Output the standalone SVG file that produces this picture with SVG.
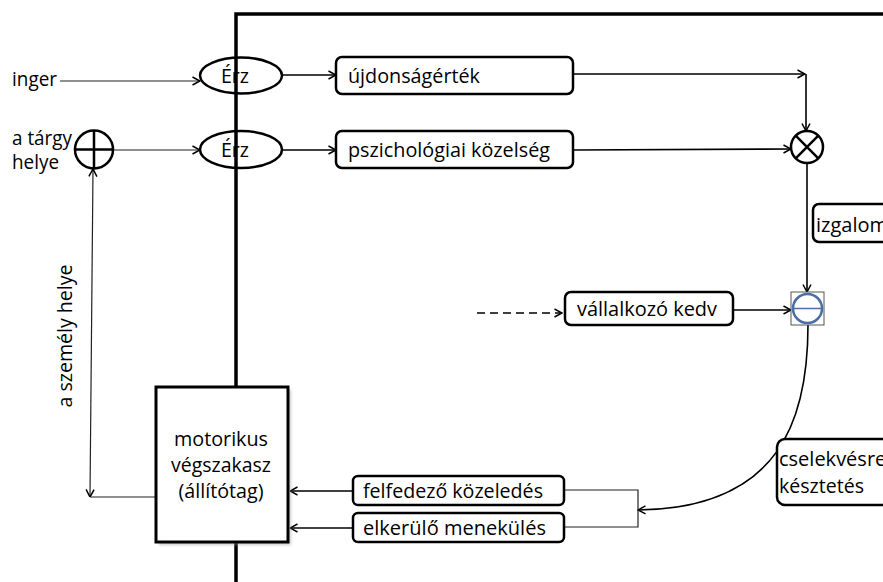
<svg xmlns="http://www.w3.org/2000/svg" width="883" height="582" viewBox="0 0 883 582">
  <style>
    text { font-family: "Open Sans", "Liberation Sans", sans-serif; font-size: 20px; fill: #000; }
    .box { fill: #fff; stroke: #000; stroke-width: 2.5; }
    .wire { fill: none; stroke: #000; stroke-width: 1.6; }
    .thin { fill: none; stroke: #222; stroke-width: 1.2; }
    .mid { text-anchor: middle; }
  </style>
  <defs>
    <marker id="arr" viewBox="0 0 10 10" refX="9.5" refY="5" markerWidth="10" markerHeight="10" markerUnits="userSpaceOnUse" orient="auto-start-reverse">
      <path d="M2,1 L9.5,5 L2,9" fill="none" stroke="#000" stroke-width="1.5"/>
    </marker>
    <filter id="soft" x="-10%" y="-10%" width="130%" height="130%">
      <feGaussianBlur stdDeviation="1.5"/>
    </filter>
  </defs>

  <!-- system boundary -->
  <path id="frame" d="M236,582 V14 H883" fill="none" stroke="#000" stroke-width="3.5"/>

  <!-- connectors -->
  <g id="connectors">
    <path class="thin" d="M60,81 H200" marker-end="url(#arr)"/>
    <path class="thin" d="M113,150 H200" marker-end="url(#arr)"/>
    <path class="wire" d="M282,75 H336" stroke-width="2" marker-end="url(#arr)"/>
    <path class="wire" d="M282,150 H336" stroke-width="2" marker-end="url(#arr)"/>
    <path class="wire" d="M573,74 H805" marker-end="url(#arr)"/>
    <path class="wire" d="M806,74 V131" marker-end="url(#arr)"/>
    <path class="wire" d="M573,150 L791,149" marker-end="url(#arr)"/>
    <path class="wire" d="M807,163 V292" marker-end="url(#arr)"/>
    <path class="wire" d="M733,310 H791" marker-end="url(#arr)"/>
    <path class="wire" d="M477,313 H562" stroke-dasharray="8,5" marker-end="url(#arr)"/>
    <path class="wire" d="M808,325 C808,420 780,508 638,510" marker-end="url(#arr)"/>
    <path class="thin" d="M564,490 H638 V527 H564"/>
    <path class="wire" d="M353,491 H290" marker-end="url(#arr)"/>
    <path class="wire" d="M353,528 H290" marker-end="url(#arr)"/>
    <path class="thin" d="M156,497 H90"/>
    <path class="thin" d="M90,497 L93,169" marker-start="url(#arr)" marker-end="url(#arr)"/>
  </g>

  <!-- inputs -->
  <g id="input-inger">
    <text x="12" y="86" textLength="45" lengthAdjust="spacingAndGlyphs">inger</text>
  </g>
  <g id="input-targy">
    <text x="12" y="145" textLength="60" lengthAdjust="spacingAndGlyphs">a tárgy</text>
    <text x="12" y="169" textLength="47" lengthAdjust="spacingAndGlyphs">helye</text>
  </g>
  <g id="sum-point">
    <circle cx="94" cy="149.5" r="19" fill="none" stroke="#000" stroke-width="2.5"/>
    <path d="M75,149.5 H113 M94,130.5 V168.5" stroke="#000" stroke-width="2.5"/>
  </g>
  <g id="label-szemely">
    <text class="mid" transform="translate(72,336) rotate(-90)" textLength="143" lengthAdjust="spacingAndGlyphs">a személy helye</text>
  </g>

  <!-- receptors -->
  <g id="erz-1">
    <ellipse cx="241" cy="75.5" rx="41" ry="18" fill="none" stroke="#000" stroke-width="2.5"/>
    <text class="mid" x="235" y="83" textLength="28" lengthAdjust="spacingAndGlyphs">Érz</text>
  </g>
  <g id="erz-2">
    <ellipse cx="241" cy="149.5" rx="41" ry="18.5" fill="none" stroke="#000" stroke-width="2.5"/>
    <text class="mid" x="235" y="157" textLength="28" lengthAdjust="spacingAndGlyphs">Érz</text>
  </g>

  <g id="ujdonsag">
    <rect class="box" x="336" y="57" width="237" height="37" rx="6"/>
    <text x="348" y="83" textLength="132" lengthAdjust="spacingAndGlyphs">újdonságérték</text>
  </g>
  <g id="kozelseg">
    <rect class="box" x="336" y="131" width="237" height="37" rx="6"/>
    <text x="348" y="157" textLength="202" lengthAdjust="spacingAndGlyphs">pszichológiai közelség</text>
  </g>

  <!-- multiplier -->
  <g id="multiplier">
    <circle cx="807" cy="147" r="16" fill="#fff" stroke="#000" stroke-width="2.5"/>
    <path d="M795.7,135.7 L818.3,158.3 M818.3,135.7 L795.7,158.3" stroke="#000" stroke-width="2.5"/>
  </g>

  <g id="izgalom">
    <rect class="box" x="813" y="204" width="100" height="38" rx="6"/>
    <text x="816" y="232">izgalom</text>
  </g>

  <g id="vallalkozo">
    <rect class="box" x="565" y="292" width="168" height="33" rx="6"/>
    <text x="577" y="316" textLength="140" lengthAdjust="spacingAndGlyphs">vállalkozó kedv</text>
  </g>

  <!-- comparator -->
  <g id="comparator">
    <rect x="791" y="292" width="33" height="33" fill="#fff" stroke="#555" stroke-width="1"/>
    <circle cx="807.5" cy="308.5" r="14.5" fill="none" stroke="#4a6fa5" stroke-width="2.5"/>
    <path d="M793,308.5 H822" stroke="#4a6fa5" stroke-width="1.5"/>
  </g>

  <g id="cselekves">
    <rect class="box" x="777" y="439" width="150" height="66" rx="8"/>
    <text x="779" y="466">cselekvésre</text>
    <text x="779" y="493" textLength="85" lengthAdjust="spacingAndGlyphs">késztetés</text>
  </g>

  <g id="felfedezo">
    <rect class="box" x="353" y="476" width="211" height="29" rx="5"/>
    <text x="363" y="498" textLength="180" lengthAdjust="spacingAndGlyphs">felfedező közeledés</text>
  </g>
  <g id="elkerulo">
    <rect class="box" x="353" y="513" width="211" height="29" rx="5"/>
    <text x="363" y="535" textLength="183" lengthAdjust="spacingAndGlyphs">elkerülő menekülés</text>
  </g>

  <!-- actuator -->
  <g id="motorikus">
    <rect x="159" y="390" width="132" height="155" fill="#999" opacity="0.5" filter="url(#soft)"/>
    <rect x="156" y="387" width="132" height="155" fill="#fff" stroke="#000" stroke-width="3"/>
    <text class="mid" x="221" y="446" textLength="94" lengthAdjust="spacingAndGlyphs">motorikus</text>
    <text class="mid" x="221" y="472" textLength="100" lengthAdjust="spacingAndGlyphs">végszakasz</text>
    <text class="mid" x="221" y="498" textLength="85" lengthAdjust="spacingAndGlyphs">(állítótag)</text>
  </g>
</svg>
